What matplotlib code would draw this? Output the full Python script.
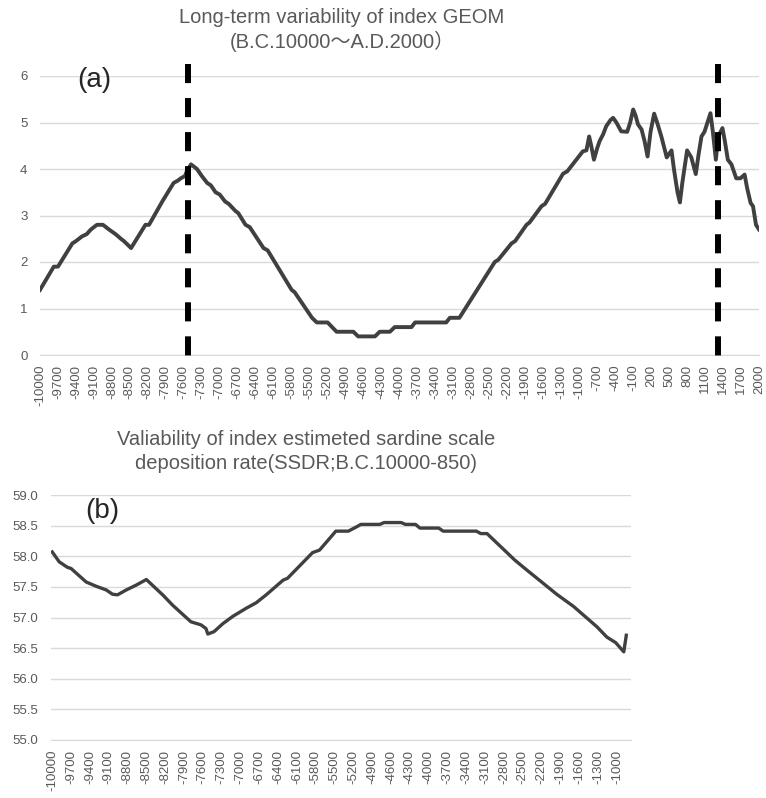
import matplotlib
matplotlib.use("Agg")
import matplotlib.pyplot as plt
import numpy as np

plt.rcParams["font.family"] = ["Liberation Sans", "Noto Sans CJK JP", "DejaVu Sans"]

# (a) GEOM index
geom_year = [
    -10000, -9770, -9700, -9460, -9400, -9350, -9300, -9220, -9150, -9050,
    -8950, -8850, -8740, -8650, -8600, -8480, -8240, -8180, -7960, -7770,
    -7700, -7650, -7580, -7550, -7480, -7380, -7300, -7210, -7150, -7070,
    -7000, -6910, -6850, -6740, -6690, -6570, -6500, -6270, -6200, -5800,
    -5750, -5460, -5380, -5200, -5050, -4770, -4690, -4410, -4330, -4160,
    -4080, -3800, -3740, -3220, -3160, -3000, -2410, -2350, -2130, -2070,
    -1880, -1830, -1630, -1570, -1270, -1200, -940, -880, -835, -800,
    -755, -700, -660, -600, -550, -480, -435, -380, -300, -200,
    -150, -100, -60, -20, 40, 90, 140, 190, 250, 300,
    370, 420, 460, 540, 580, 640, 680, 720, 800, 870,
    945, 990, 1040, 1090, 1190, 1230, 1280, 1320, 1390, 1430,
    1480, 1540, 1620, 1690, 1760, 1800, 1860, 1900, 1950, 2000,
]
geom_val = [
    1.4, 1.9, 1.9, 2.4, 2.45, 2.5, 2.55, 2.6, 2.7, 2.8,
    2.8, 2.7, 2.6, 2.5, 2.45, 2.3, 2.8, 2.8, 3.3, 3.7,
    3.75, 3.8, 3.85, 3.95, 4.1, 4.0, 3.85, 3.7, 3.65, 3.5,
    3.45, 3.3, 3.25, 3.1, 3.05, 2.8, 2.75, 2.3, 2.25, 1.4,
    1.35, 0.8, 0.7, 0.7, 0.5, 0.5, 0.4, 0.4, 0.5, 0.5,
    0.6, 0.6, 0.7, 0.7, 0.8, 0.8, 2.0, 2.05, 2.4, 2.45,
    2.8, 2.85, 3.2, 3.25, 3.9, 3.95, 4.38, 4.4, 4.7, 4.5,
    4.2, 4.45, 4.6, 4.75, 4.92, 5.05, 5.1, 5.0, 4.81, 4.8,
    5.0, 5.28, 5.15, 4.96, 4.85, 4.6, 4.27, 4.8, 5.19, 5.0,
    4.7, 4.45, 4.25, 4.4, 4.0, 3.5, 3.28, 3.7, 4.4, 4.25,
    3.89, 4.3, 4.7, 4.8, 5.2, 4.8, 4.2, 4.7, 4.88, 4.6,
    4.2, 4.1, 3.8, 3.8, 3.88, 3.6, 3.27, 3.2, 2.8, 2.7,
]
event_years = [-7525, 1320]

# (b) SSDR index
ssdr_year = [
    -10000, -9890, -9760, -9700, -9460, -9300, -9140, -9040, -8960, -8820,
    -8660, -8500, -8240, -8080, -7790, -7630, -7550, -7520, -7420, -7280,
    -7120, -6910, -6750, -6590, -6320, -6250, -5850, -5740, -5580, -5480,
    -5280, -5150, -5080, -4780, -4710, -4440, -4370, -4210, -4140, -3840,
    -3770, -3240, -3170, -3070, -2630, -2430, -2200, -1960, -1690, -1320,
    -1160, -1020, -890, -850,
]
ssdr_val = [
    58.07, 57.91, 57.82, 57.8, 57.58, 57.51, 57.45, 57.38, 57.37, 57.45,
    57.53, 57.62, 57.37, 57.2, 56.93, 56.88, 56.82, 56.73, 56.77, 56.9,
    57.02, 57.15, 57.24, 57.37, 57.61, 57.64, 58.06, 58.1, 58.29, 58.41,
    58.41, 58.48, 58.52, 58.52, 58.55, 58.55, 58.52, 58.52, 58.46, 58.46,
    58.41, 58.41, 58.37, 58.37, 57.94, 57.77, 57.58, 57.38, 57.18, 56.85,
    56.68, 56.59, 56.44, 56.71,
]

top_ticks = list(range(-10000, 2001, 300))
bot_ticks = list(range(-10000, -999, 300))

GRID = "#d9d9d9"
TXT = "#595959"
LINE = "#404040"

fig = plt.figure(figsize=(7.66, 7.98), dpi=100)
ax1 = fig.add_axes([40 / 766, 1 - 355 / 798, 719 / 766, 279 / 798])
ax2 = fig.add_axes([51 / 766, 1 - 740 / 798, 580 / 766, 245 / 798])


def style(ax):
    for s in ["top", "right", "left"]:
        ax.spines[s].set_visible(False)
    ax.spines["bottom"].set_color(GRID)
    ax.yaxis.grid(True, color=GRID, linewidth=1)
    ax.set_axisbelow(True)
    ax.tick_params(axis="both", length=0, labelsize=9.5, colors=TXT)
    ax.tick_params(axis="x", labelrotation=90, pad=7)
    ax.tick_params(axis="y", pad=9)


# top panel
ax1.plot(geom_year, geom_val, color=LINE, linewidth=2.8, solid_joinstyle="round")
ax1.set_xlim(-10000, 2000)
ax1.set_ylim(0, 6)
ax1.set_xticks(top_ticks)
ax1.set_xticklabels([str(t) for t in top_ticks])
ax1.set_yticks(range(0, 7))
style(ax1)
for yr in event_years:
    ax1.plot([yr, yr], [6.26, -0.04], color="black", linewidth=4.3,
             linestyle=(0, (3.2, 2.5)), clip_on=False, zorder=5)
ax1.text((77 - 40) / 719, 1 - (80 - 76) / 279, "(a)", transform=ax1.transAxes,
         fontsize=20, color="#262626", ha="left", va="center")

# bottom panel
ax2.plot(ssdr_year, ssdr_val, color=LINE, linewidth=2.4, solid_joinstyle="round")
ax2.set_xlim(-10020, -775)
ax2.set_ylim(55, 59)
ax2.set_xticks(bot_ticks)
ax2.set_xticklabels([str(t) for t in bot_ticks])
ax2.set_yticks(np.arange(55, 59.01, 0.5))
ax2.set_yticklabels(["%.1f" % v for v in np.arange(55, 59.01, 0.5)])
style(ax2)
ax2.text((85 - 51) / 580, 1 - (511 - 495) / 245, "(b)", transform=ax2.transAxes,
         fontsize=20, color="#262626", ha="left", va="center")

# titles, one text per line
title_kw = dict(ha="center", va="baseline", fontsize=14.5, color=TXT)
fig.text(342 / 766, 1 - 23 / 798, "Long-term variability of index GEOM", **title_kw)
fig.text(342 / 766, 1 - 48 / 798, "(B.C.10000～A.D.2000）", **title_kw)
fig.text(306 / 766, 1 - 445 / 798, "Valiability of index estimeted sardine scale", **title_kw)
fig.text(306 / 766, 1 - 469 / 798, "deposition rate(SSDR;B.C.10000-850)", **title_kw)

fig.savefig("out.png", dpi=100)
